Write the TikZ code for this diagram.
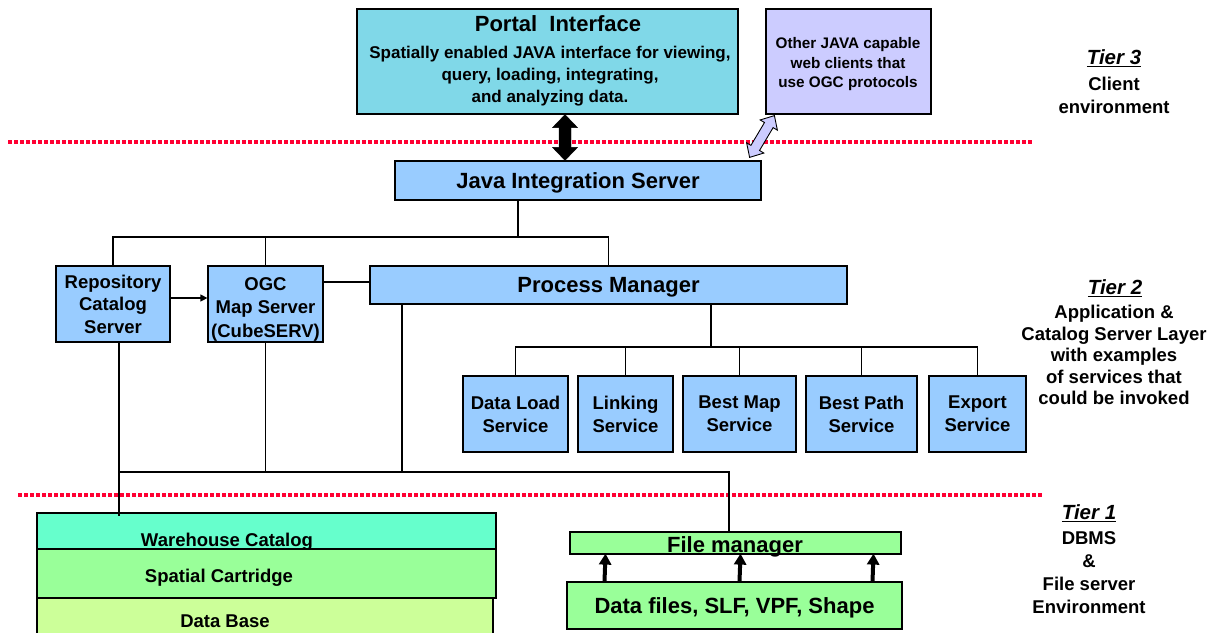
\documentclass[tikz,border=0pt]{standalone}
\usepackage{fontspec}
\setmainfont{Liberation Sans}
\usetikzlibrary{arrows.meta,calc}

\definecolor{portalcyan}{RGB}{128,216,232}
\definecolor{lav}{RGB}{204,204,255}
\definecolor{skyblue}{RGB}{153,204,255}
\definecolor{mint}{RGB}{102,255,204}
\definecolor{lightgreen}{RGB}{153,255,153}
\definecolor{palelime}{RGB}{204,255,153}
\definecolor{tierred}{RGB}{255,0,51}

% bold text at a given size / baseline skip
\newcommand\sz[2]{\fontsize{#1}{#2}\selectfont\bfseries}

% rectangle node given by its corners (x1,y1)-(x2,y2), y measured downwards
\newcommand\boxnode[8]{%
  \node[box, fill=#6, minimum width={(#4-#2)*1pt}, minimum height={(#5-#3)*1pt}, #7]
    (#1) at ({(#2+#4)/2},{-(#3+#5)/2}) {#8};}

% two-headed block arrow between two points
\newcommand\blockarrow[6]{%
  \path let \p1=($(#2)-(#1)$), \n1={atan2(\y1,\x1)}, \n2={veclen(\x1,\y1)} in
    \pgfextra{\xdef\baang{\n1}\xdef\balen{\n2}};
  \begin{scope}[shift={(#1)}, rotate=\baang]
    \draw[#6] (0,0) -- (#5,#4) -- (#5,#3) -- (\balen-#5,#3) -- (\balen-#5,#4)
      -- (\balen,0) -- (\balen-#5,-#4) -- (\balen-#5,-#3) -- (#5,-#3) -- (#5,-#4) -- cycle;
  \end{scope}}

\begin{document}
\begin{tikzpicture}[x=1pt,y=1pt,
  box/.style={draw=black, line width=1.2pt, inner sep=0pt, align=center},
  oneline/.style={text depth=0pt},
  wire/.style={draw=black, line width=1.2pt},
  tierline/.style={draw=tierred, line width=3.5pt, dash pattern=on 4pt off 2pt},
  fatup/.style={draw=black, line width=4pt, -{Triangle[width=12pt,length=11pt]}},
  tierhead/.style={inner sep=0pt, font=\sz{20.5}{24}\itshape},
  tierbody/.style={inner sep=0pt, align=center},
  plain/.style={inner sep=0pt, align=center}]
\useasboundingbox (0,0) rectangle (1222,-632);

% tier separators
\draw[tierline] (8,-142) -- (1032,-142);
\draw[tierline] (18,-495) -- (1043,-495);

% tier 3: clients
\boxnode{portal}{357}{9}{738}{114}{portalcyan}{}{}
\node[plain, font=\sz{22}{26}] (portaltitle) at (558,-24) {Portal\ \ Interface};
\node[plain, font=\sz{17}{22}] (portaltext) at (550,-76)
  {Spatially enabled JAVA interface for viewing,\\ query, loading, integrating,\\ and analyzing data.};
\boxnode{other}{766}{9}{931}{114}{lav}{}{}
\node[plain, font=\sz{15.3}{19.5}] (othertext) at (848,-64.5)
  {Other JAVA capable\\ web clients that\\ use OGC protocols};

% tier 2: application and catalog servers
\boxnode{java}{395}{161}{761}{200}{skyblue}{font=\sz{22}{26}, oneline}{Java Integration Server}
\boxnode{repo}{56}{266}{170}{342}{skyblue}{font=\sz{18.5}{22.5}}{Repository\\ Catalog\\ Server}
\boxnode{ogc}{208}{266}{323}{342}{skyblue}{}{}
\node[plain, font=\sz{18.5}{23.5}] (ogctext) at (265.5,-309) {OGC\\ Map Server\\ (CubeSERV)};
\boxnode{pm}{370}{266}{847}{304}{skyblue}{font=\sz{22}{26}, oneline}{Process Manager}
\boxnode{dl}{463}{376}{568}{452}{skyblue}{font=\sz{18.5}{23}}{Data Load\\ Service}
\boxnode{lk}{578}{376}{673}{452}{skyblue}{font=\sz{18.5}{23}}{Linking\\ Service}
\boxnode{bm}{683}{376}{796}{452}{skyblue}{font=\sz{18.5}{23}}{Best Map\\ Service}
\boxnode{bp}{806}{376}{917}{452}{skyblue}{font=\sz{18.5}{23}}{Best Path\\ Service}
\boxnode{ex}{929}{376}{1026}{452}{skyblue}{font=\sz{18.5}{23}}{Export\\ Service}

% tier 1: database stack and file server
\boxnode{wcat}{37}{513}{496}{549}{mint}{}{}
\boxnode{scart}{37}{549}{496}{598}{lightgreen}{}{}
\boxnode{dbase}{37}{598}{493}{636}{palelime}{}{}
\node[plain, font=\sz{18.5}{22}] (wcattext) at (227,-541.5) {Warehouse Catalog};
\node[plain, font=\sz{18.5}{22}] (scarttext) at (219,-577.5) {Spatial Cartridge};
\node[plain, font=\sz{18.5}{22}] (dbasetext) at (225,-621) {Data Base};
\boxnode{fm}{570}{532}{901}{554}{lightgreen}{}{}
\node[plain, font=\sz{22}{26}, oneline] (fmtext) at (735,-545) {File manager};
\boxnode{df}{567}{582}{902}{629}{lightgreen}{font=\sz{22}{26}, oneline}{Data files, SLF, VPF, Shape}

% tier captions
\node[tierhead] (t3) at (1114,-58) {\underline{Tier 3}};
\node[tierbody, font=\sz{18.5}{23}] (t3b) at (1114,-95) {Client\\ environment};
\node[tierhead] (t2) at (1115,-288) {\underline{Tier 2}};
\node[tierbody, font=\sz{18.5}{21.5}] (t2b) at (1114,-355)
  {Application \&\\ Catalog Server Layer\\ with examples\\ of services that\\ could be invoked};
\node[tierhead] (t1) at (1089,-513) {\underline{Tier 1}};
\node[tierbody, font=\sz{18.5}{23}] (t1b) at (1089,-573) {DBMS\\ \&\\ File server\\ Environment};

% client links
\coordinate (blkx) at (565,0);
\blockarrow{portal.south -| blkx}{java.north -| blkx}{6}{12.5}{13}{fill=black, draw=black}
\blockarrow{[xshift=9pt,yshift=-1pt]other.south west}{[xshift=-12pt,yshift=3pt]java.north east}{5}{10}{11}{fill=lav, draw=black, line width=0.9pt}

% integration server tree
\coordinate (jbus) at (518,-237);
\draw[wire] (java.south -| jbus) -- (jbus);
\draw[wire] (repo.north) |- (jbus) -| (pm.north);
\draw[wire] (ogc.north) -- (ogc.north |- jbus);
\draw[wire, -{Triangle[width=7pt,length=7pt]}] ([yshift=6pt]repo.east) -- ([yshift=6pt]repo.east -| ogc.west);
\draw[wire] ([yshift=22pt]ogc.east) -- ([yshift=22pt]ogc.east -| pm.west);

% process manager services
\coordinate (svcbus) at (711,-347);
\draw[wire] (pm.south -| svcbus) -- (svcbus);
\draw[wire] (dl.north) |- (svcbus) -| (ex.north);
\draw[wire] (lk.north) -- (lk.north |- svcbus);
\draw[wire] (bm.north) -- (bm.north |- svcbus);
\draw[wire] (bp.north) -- (bp.north |- svcbus);

% data access bus
\coordinate (busL) at (119,-472);
\coordinate (busR) at (729,-472);
\coordinate (pmdrop) at (402,-472);
\draw[wire] (repo.south -| busL) -- ([yshift=-4pt]wcat.north -| busL);
\draw[wire] (busL) -- (busR) -- (busR |- fm.north);
\draw[wire] (ogc.south) -- (ogc.south |- busL);
\draw[wire] (pmdrop |- pm.south) -- (pmdrop);

% file feeds
\foreach \dx in {-130,5,138}
  \draw[fatup] ([xshift=\dx pt]df.north) -- ([xshift=\dx pt,yshift=1pt]fm.south);
\end{tikzpicture}
\end{document}
